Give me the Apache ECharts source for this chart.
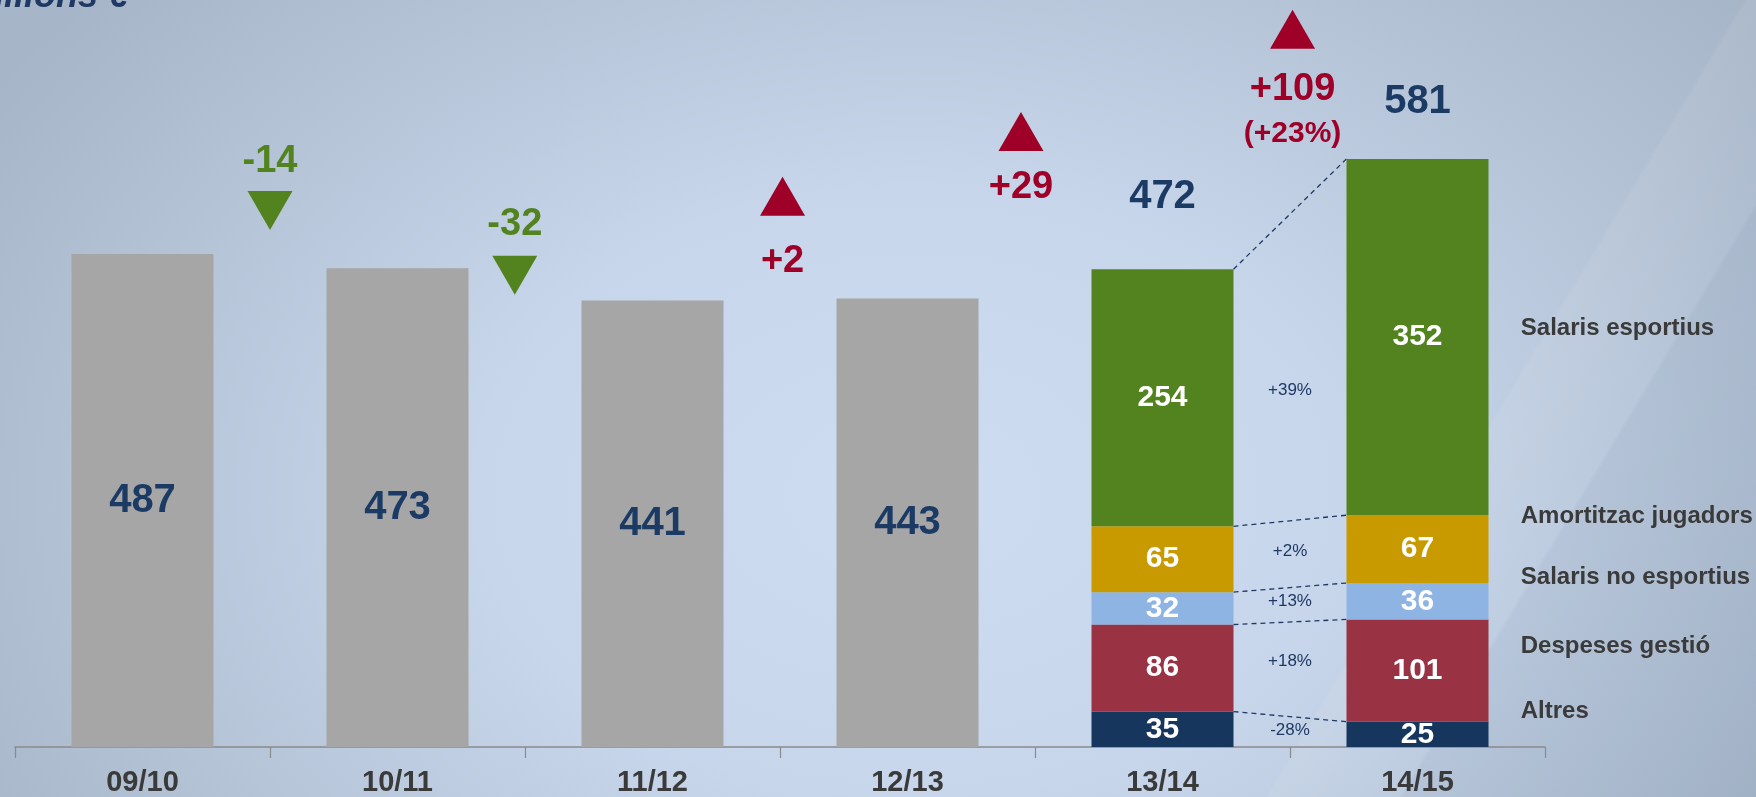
<!DOCTYPE html>
<html><head><meta charset="utf-8">
<script src="https://cdn.jsdelivr.net/npm/echarts@6/dist/echarts.min.js"></script>
<style>
html,body{margin:0;padding:0;overflow:hidden;}
body{width:1756px;height:797px;
background:
 linear-gradient(121deg, rgba(0,0,0,0) 0%, rgba(0,0,0,0) 78%, rgba(255,255,255,0.07) 78.2%, rgba(255,255,255,0.02) 84%, rgba(60,80,110,0.05) 84.2%, rgba(60,80,110,0.10) 100%),
 radial-gradient(ellipse 62% 95% at 52% 62%, #cddcf0 0%, #c7d6ea 40%, #b4c3d6 74%, #a6b5c7 100%);}
#c{width:1756px;height:797px;}
</style>
</head><body><div id="c"></div>
<script>
// ---- data ----
const categories = ['09/10','10/11','11/12','12/13','13/14','14/15'];
const grayTotals = [487, 473, 441, 443, null, null];
const altres      = [null, null, null, null, 35, 25];
const despeses    = [null, null, null, null, 86, 101];
const salarisNo   = [null, null, null, null, 32, 36];
const amortitzac  = [null, null, null, null, 65, 67];
const salarisEsp  = [null, null, null, null, 254, 352];
const stackedTotals = [null, null, null, null, 472, 581];
const changes = ['-14', '-32', '+2', '+29', '+109'];
const lastChangePct = '(+23%)';
const segmentNames = ['Altres', 'Despeses gestió', 'Salaris no esportius', 'Amortitzac jugadors', 'Salaris esportius'];
const segmentChanges = ['-28%', '+18%', '+13%', '+2%', '+39%'];
const unitLabel = 'Milions €';

// ---- layout (annotation anchors, in axis units) ----
const arrowX = [1, 1.96, 3.01, 3.945, 5.01];
const arrowY = [530, 466, 544, 608, 709];
const changeLabelY = [578, 516, 480, 553, 650];
const pctLabelY = 606;
const totalLabelY = [null, null, null, null, 543, 637.5];
const segChangeY = [16, 85, 144, 193, 352];
const legendY = [35, 99, 168, 228, 414];
const legendX = 5.905;

const BAR_W = 142, CAT_W = 255;
const NAVY_TXT = '#1b3a64', RED = '#9e0027', GREEN = '#52831f', DARK = '#3a3a3a';
const FONT = '"Liberation Sans", Arial, sans-serif';
const segColors = ['#17365d', '#993343', '#8eb4e3', '#c99a00', '#52831f'];
const segData = [altres, despeses, salarisNo, amortitzac, salarisEsp];

const series = [];
series.push({
  type: 'bar', stack: 's', barWidth: BAR_W, data: grayTotals,
  itemStyle: { color: '#a6a6a6' },
  label: { show: true, position: 'inside', color: NAVY_TXT, fontSize: 40, fontWeight: 'bold', fontFamily: FONT }
});
segData.forEach((d, k) => {
  series.push({
    type: 'bar', stack: 's', barWidth: BAR_W, name: segmentNames[k], data: d,
    itemStyle: { color: segColors[k] },
    label: { show: true, position: 'inside', color: '#ffffff', fontSize: 30, fontWeight: 'bold', fontFamily: FONT }
  });
});

// connectors between 13/14 and 14/15
const half = BAR_W / CAT_W / 2;
const conn = [];
let c1 = 0, c2 = 0;
segData.forEach(d => {
  c1 += d[4]; c2 += d[5];
  conn.push({ coords: [[4.5 + half, c1], [5.5 - half, c2]] });
});
series.push({
  type: 'lines', coordinateSystem: 'cartesian2d', xAxisIndex: 1, yAxisIndex: 0,
  data: conn, silent: true,
  lineStyle: { color: '#1f3864', width: 1.3, type: [5, 4], opacity: 1 }
});

// arrows
series.push({
  type: 'scatter', xAxisIndex: 1, yAxisIndex: 0, silent: true,
  symbol: 'triangle', symbolSize: [45, 39],
  data: changes.map((c, i) => ({
    value: [arrowX[i], arrowY[i]],
    symbolRotate: c.startsWith('-') ? 180 : 0,
    itemStyle: { color: c.startsWith('-') ? GREEN : RED, opacity: 1 }
  }))
});
// change labels
const chg = changes.map((c, i) => ({
  value: [arrowX[i], changeLabelY[i]],
  label: { formatter: c, color: c.startsWith('-') ? GREEN : RED, fontSize: 38 }
}));
chg.push({ value: [arrowX[4], pctLabelY], label: { formatter: lastChangePct, color: RED, fontSize: 30 } });
// totals above stacked bars
stackedTotals.forEach((t, i) => {
  if (t != null) chg.push({ value: [i + 0.5, totalLabelY[i]], label: { formatter: String(t), color: NAVY_TXT, fontSize: 40 } });
});
const labelScatter = (data, label) => ({
  type: 'scatter', xAxisIndex: 1, yAxisIndex: 0, silent: true, symbolSize: 0,
  itemStyle: { opacity: 1 },
  label: Object.assign({ show: true, opacity: 1 }, label),
  data: data
});
series.push(labelScatter(chg, { position: 'inside', fontWeight: 'bold', fontFamily: FONT }));
// segment change % labels
series.push(labelScatter(
  segmentChanges.map((s, k) => ({ value: [5, segChangeY[k]], label: { formatter: s } })),
  { position: 'inside', color: '#1f3864', fontSize: 17, fontFamily: FONT }));
// series name labels
series.push(labelScatter(
  segmentNames.map((n, k) => ({ value: [legendX, legendY[k]], label: { formatter: n } })),
  { position: 'right', distance: 0, color: DARK, fontSize: 24, fontWeight: 'bold', fontFamily: FONT }));

const chart = echarts.init(document.getElementById('c'), null, { renderer: 'canvas' });
chart.setOption({
  backgroundColor: 'transparent',
  animation: false,
  grid: { left: 15, right: 211, top: 3, bottom: 50, containLabel: false },
  xAxis: [
    { type: 'category', data: categories, position: 'bottom',
      axisLine: { show: true, lineStyle: { color: '#8a8a8a', width: 1.5 } },
      axisTick: { show: true, length: 11, lineStyle: { color: '#8a8a8a', width: 1.2 } },
      axisLabel: { color: DARK, fontSize: 29, fontWeight: 'bold', fontFamily: FONT, margin: 21 } },
    { type: 'value', min: 0, max: 6, show: false }
  ],
  yAxis: { type: 'value', min: 0, max: 735, show: false },
  graphic: [{
    type: 'text', x: 128, y: -2.5,
    style: { text: unitLabel, fill: '#1f3864', font: 'italic bold 36px "Liberation Sans", Arial, sans-serif', align: 'right', verticalAlign: 'middle' }
  }],
  series: series
});
</script>
</body></html>
